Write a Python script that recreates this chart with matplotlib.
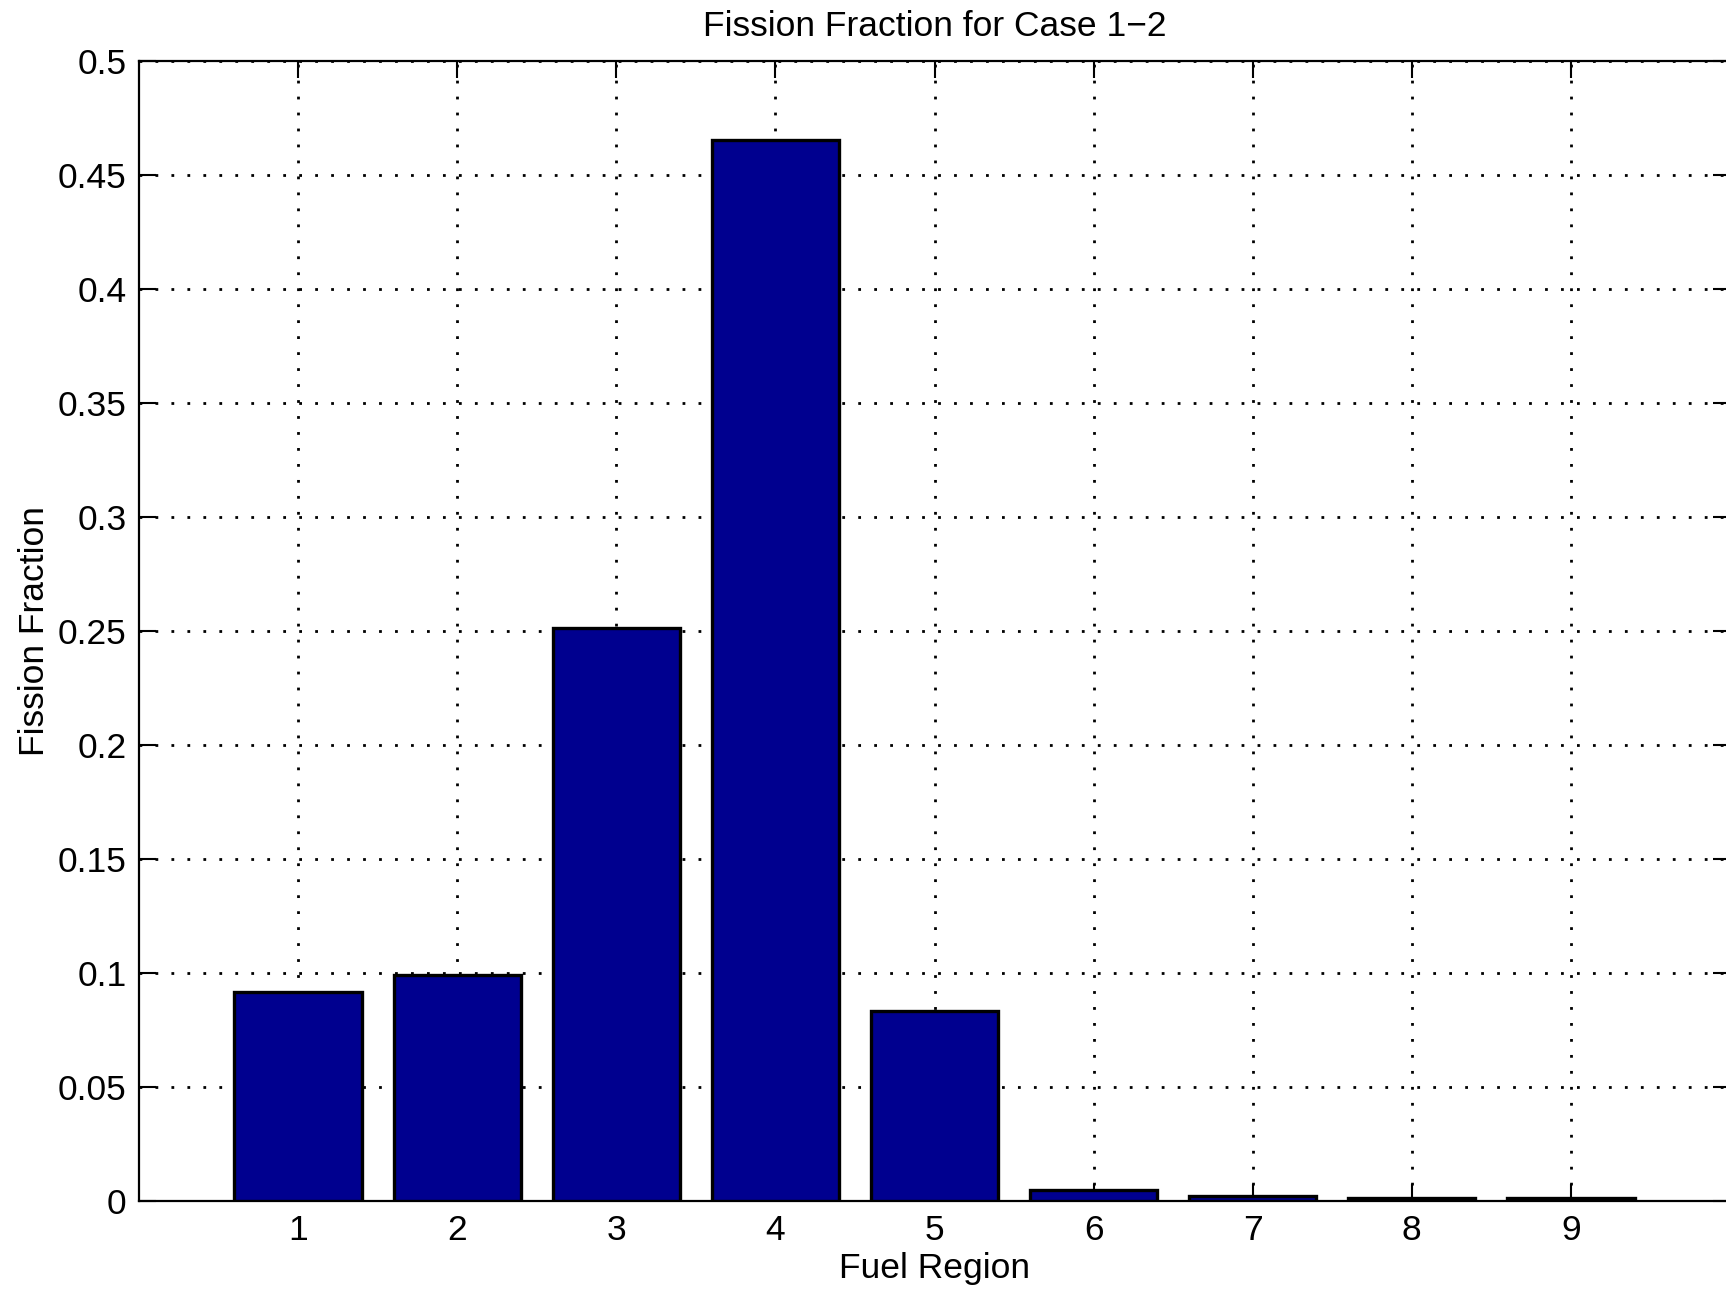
import matplotlib
matplotlib.use("Agg")
import matplotlib.pyplot as plt

# Fission fraction per fuel region
regions = [1, 2, 3, 4, 5, 6, 7, 8, 9]
fission_fraction = [0.0918, 0.0991, 0.2515, 0.4655, 0.0835, 0.0047, 0.0023, 0.0013, 0.0012]
y_ticks = [0, 0.05, 0.1, 0.15, 0.2, 0.25, 0.3, 0.35, 0.4, 0.45, 0.5]
y_tick_labels = ["0", "0.05", "0.1", "0.15", "0.2", "0.25", "0.3", "0.35", "0.4", "0.45", "0.5"]

plt.rcParams["font.family"] = ["Liberation Sans", "DejaVu Sans"]

W, H = 1726, 1289
fig = plt.figure(figsize=(W / 100, H / 100), dpi=100)
left, right, top, bottom = 139, 1730, 61, 1201
ax = fig.add_axes([left / W, 1 - bottom / H, (right - left) / W, (bottom - top) / H])

ax.bar(regions, fission_fraction, width=0.8, color="#00008F",
       edgecolor="black", linewidth=2.4, zorder=3)

ax.set_xlim(0, 10)
ax.set_ylim(0, 0.5)
ax.set_xticks(regions)
ax.set_yticks(y_ticks)
ax.set_yticklabels(y_tick_labels)

ax.grid(True, color="black", linestyle=(0, (1, 4.75)), linewidth=2.0, zorder=1)
ax.set_axisbelow(True)

ax.tick_params(direction="in", length=12, width=1.5, labelsize=25.5,
               top=True, right=True, pad=9)
for s in ax.spines.values():
    s.set_linewidth(1.6)

ax.set_title("Fission Fraction for Case 1\u22122", fontsize=25.5, pad=18)
ax.set_xlabel("Fuel Region", fontsize=25.5, labelpad=4)
ax.set_ylabel("Fission Fraction", fontsize=25.5, labelpad=5)

fig.savefig("out.png", dpi=100)
